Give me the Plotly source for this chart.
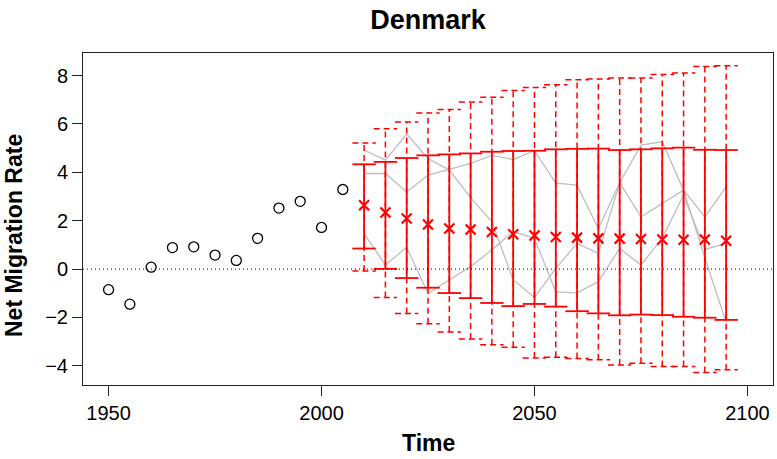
import plotly.graph_objects as go

# ---------------- data ----------------
obs_years = [1950, 1955, 1960, 1965, 1970, 1975, 1980, 1985, 1990, 1995, 2000, 2005]
obs_values = [-0.85, -1.45, 0.08, 0.89, 0.92, 0.58, 0.36, 1.27, 2.52, 2.80, 1.72, 3.29]

proj_years = [2010, 2015, 2020, 2025, 2030, 2035, 2040, 2045, 2050,
              2055, 2060, 2065, 2070, 2075, 2080, 2085, 2090, 2095]
median = [2.64, 2.34, 2.09, 1.84, 1.68, 1.64, 1.53, 1.44, 1.39,
          1.33, 1.30, 1.27, 1.26, 1.24, 1.22, 1.21, 1.22, 1.17]
upper80 = [4.33, 4.43, 4.59, 4.70, 4.74, 4.78, 4.85, 4.88, 4.89,
           4.95, 4.97, 4.98, 4.92, 4.95, 4.99, 5.02, 4.93, 4.92]
lower80 = [0.85, 0.01, -0.37, -0.77, -0.99, -1.20, -1.40, -1.53, -1.44,
           -1.55, -1.74, -1.83, -1.91, -1.88, -1.90, -1.97, -2.01, -2.10]
upper95 = [5.21, 5.80, 6.08, 6.45, 6.60, 6.90, 7.10, 7.38, 7.50,
           7.62, 7.82, 7.86, 7.90, 7.90, 8.04, 8.10, 8.37, 8.40]
lower95 = [-0.08, -1.17, -1.84, -2.26, -2.60, -2.89, -3.13, -3.23, -3.67,
           -3.64, -3.70, -3.75, -3.96, -3.89, -4.03, -4.03, -4.27, -4.16]

traj1 = [4.92, 4.50, 5.58, 4.57, 4.09, 2.95, 1.95, -0.45, -1.17,
         0.03, 1.06, 0.65, 3.57, 2.16, 2.71, 3.26, 2.16, 3.40]
traj2 = [3.95, 3.95, 3.19, 3.88, 4.12, 4.37, 4.70, 4.53, 4.89,
         3.55, 3.47, 1.68, 3.57, 5.12, 5.26, 3.26, 0.47, -2.20]
traj3 = [1.47, 0.17, 0.90, -1.01, -0.45, 0.10, 0.80, 1.55, 1.27,
         -0.94, -0.98, -0.52, 0.85, 0.17, 1.27, 3.06, 0.81, 1.06]
trajectories = [traj1, traj2, traj3]

x_ticks = [1950, 2000, 2050, 2100]
y_ticks = [-4, -2, 0, 2, 4, 6, 8]
x_range = [1944, 2106]
y_range = [-4.79, 8.93]

CAP = 2.75  # half-width of interval caps in years

FONT = "Liberation Sans, Arial, Helvetica, sans-serif"

W, H = 777, 459
ML, MR, MT, MB = 83, 4, 53, 74
PW, PH = W - ML - MR, H - MT - MB


def interval_segments(years, lo, hi, cap):
    xs, ys = [], []
    for yr, l, h in zip(years, lo, hi):
        xs += [yr, yr, None, yr - cap, yr + cap, None, yr - cap, yr + cap, None]
        ys += [l, h, None, h, h, None, l, l, None]
    return xs, ys


fig = go.Figure()

# grey trajectories
for tr in trajectories:
    fig.add_trace(go.Scatter(x=proj_years, y=tr, mode="lines",
                             line=dict(color="#BEBEBE", width=1.3),
                             showlegend=False, hoverinfo="skip"))

# 95% intervals (dashed)
x95, y95 = interval_segments(proj_years, lower95, upper95, CAP)
fig.add_trace(go.Scatter(x=x95, y=y95, mode="lines",
                         line=dict(color="#FF0000", width=1.5, dash="6px,4px"),
                         showlegend=False, hoverinfo="skip"))

# 80% intervals (solid)
x80, y80 = interval_segments(proj_years, lower80, upper80, CAP)
fig.add_trace(go.Scatter(x=x80, y=y80, mode="lines",
                         line=dict(color="#FF0000", width=1.8),
                         showlegend=False, hoverinfo="skip"))

# median markers
fig.add_trace(go.Scatter(x=proj_years, y=median, mode="markers",
                         marker=dict(symbol="x-thin-open", size=10, color="#FF0000",
                                     line=dict(color="#FF0000", width=2.2)),
                         showlegend=False))

# observed
fig.add_trace(go.Scatter(x=obs_years, y=obs_values, mode="markers",
                         marker=dict(symbol="circle-open", size=10,
                                     color="black", line=dict(width=1.3)),
                         showlegend=False))

# zero reference line
fig.add_hline(y=0, line=dict(color="black", width=1, dash="1px,3px"))

axis_common = dict(showgrid=False, zeroline=False, showline=True, mirror=True,
                   automargin=False,
                   linecolor="#222222", linewidth=1, ticks="outside", ticklen=10,
                   tickwidth=1, tickcolor="#222222",
                   tickfont=dict(family=FONT, size=20, color="black"))

fig.update_xaxes(range=x_range, tickvals=x_ticks,
                 ticktext=[str(v) for v in x_ticks], **axis_common)
fig.update_yaxes(range=y_range, tickvals=y_ticks, **axis_common)

# axis titles as annotations (placed in paper units)
fig.add_annotation(text="<b>Time</b>", xref="paper", yref="paper",
                   x=0.5, y=(MT + PH - 443) / PH, xanchor="center", yanchor="middle",
                   showarrow=False, font=dict(family=FONT, size=23, color="black"))
fig.add_annotation(text="<b>Net Migration Rate</b>", xref="paper", yref="paper",
                   x=(14 - ML) / PW, y=(MT + PH - 236) / PH, textangle=-90,
                   xanchor="center", yanchor="middle",
                   showarrow=False, font=dict(family=FONT, size=23, color="black"))

fig.update_layout(
    width=W, height=H,
    margin=dict(l=ML, r=MR, t=MT, b=MB),
    paper_bgcolor="white", plot_bgcolor="white",
    title=dict(text="<b>Denmark</b>", x=0.5, xref="paper", xanchor="center",
               y=1 - 20 / H, yref="container", yanchor="middle",
               font=dict(family=FONT, size=27, color="black")),
    showlegend=False,
)

fig.write_html("out.html", config={"displayModeBar": False})

# remove the browser's default page margin so the figure sits at (0, 0)
with open("out.html", "r", encoding="utf-8") as f:
    html = f.read()
html = html.replace("<head>", "<head><style>html,body{margin:0;padding:0;overflow:hidden;}</style>", 1)
with open("out.html", "w", encoding="utf-8") as f:
    f.write(html)
